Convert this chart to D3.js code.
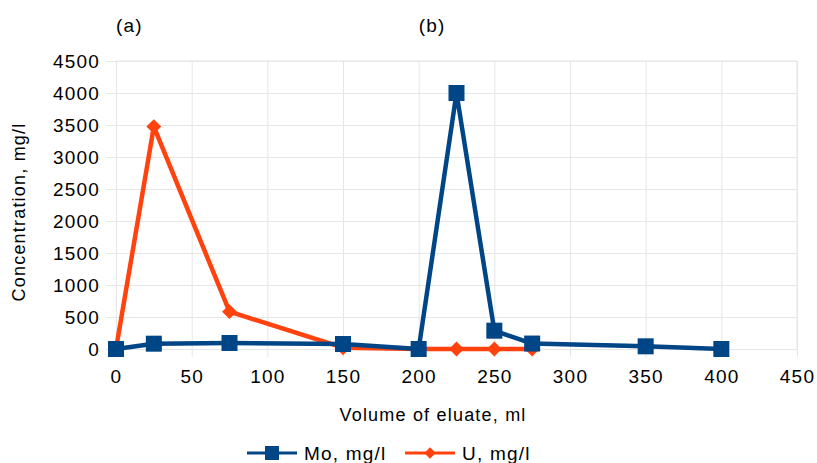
<!DOCTYPE html>
<html><head><meta charset="utf-8">
<script src="https://cdn.jsdelivr.net/npm/d3@7"></script>
<style>
body{margin:0;background:#fff;}
text{font-family:"Liberation Sans",Arial,sans-serif;fill:#000;}
</style></head>
<body>
<svg id="c" width="817" height="463"></svg>
<script>
const volumes = [0, 25, 75, 150, 200, 225, 250, 275, 350, 400];
const moValues = [0, 83, 94, 78, 0, 4000, 286, 85, 42, 0];
const uVolumes = [0, 25, 75, 150, 200, 225, 250, 275];
const uValues = [0, 3475, 583, 20, 0, 0, 0, 0];
const xTicks = [0, 50, 100, 150, 200, 250, 300, 350, 400, 450];
const yTicks = [0, 500, 1000, 1500, 2000, 2500, 3000, 3500, 4000, 4500];
const seriesNames = ["Mo, mg/l", "U, mg/l"];
const colors = ["#004586", "#ff420e"];
const panelLabels = [{text:"(a)", x:0}, {text:"(b)", x:200}];

const svg = d3.select("#c");
const L = 116, R = 797, T = 61, B = 349;
const x = d3.scaleLinear().domain([0, 450]).range([L, R]);
const y = d3.scaleLinear().domain([0, 4500]).range([B, T]);
const grid = "#e6e6e6";
const ls = "1.2px";

// grid
const xg = svg.append("g").attr("transform", `translate(0,${B})`)
  .call(d3.axisBottom(x).tickValues(xTicks).tickSize(-(B - T)).tickFormat(""));
const yg = svg.append("g").attr("transform", `translate(${L},0)`)
  .call(d3.axisLeft(y).tickValues(yTicks).tickSize(-(R - L)).tickFormat(""));
[xg, yg].forEach(g => { g.select(".domain").remove(); g.selectAll("line").attr("stroke", grid); });

// axes with outward ticks + labels
const xa = svg.append("g").attr("transform", `translate(0,${B})`)
  .call(d3.axisBottom(x).tickValues(xTicks).tickSize(8).tickPadding(13).tickFormat(d3.format("d")));
const ya = svg.append("g").attr("transform", `translate(${L},0)`)
  .call(d3.axisLeft(y).tickValues(yTicks).tickSize(10).tickPadding(6).tickFormat(d3.format("d")));
[xa, ya].forEach(g => {
  g.select(".domain").attr("stroke", grid);
  g.selectAll("line").attr("stroke", grid);
  g.selectAll("text").attr("font-size", 19).attr("letter-spacing", ls)
    .attr("font-family", "Liberation Sans").attr("fill", "#000");
});
svg.append("line").attr("x1", R).attr("x2", R).attr("y1", T).attr("y2", B).attr("stroke", grid);
svg.append("line").attr("x1", L).attr("x2", R).attr("y1", T).attr("y2", T).attr("stroke", grid);

// lines
const line = d3.line().x(d => x(d[0])).y(d => y(d[1]));
const uData = uVolumes.map((v, i) => [v, uValues[i]]);
const moData = volumes.map((v, i) => [v, moValues[i]]);

svg.append("path").datum(uData).attr("d", line).attr("fill", "none")
  .attr("stroke", colors[1]).attr("stroke-width", 4.5).attr("stroke-linejoin", "round");
svg.selectAll(".ud").data(uData).join("path")
  .attr("transform", d => `translate(${x(d[0])},${y(d[1])}) rotate(45)`)
  .attr("d", d3.symbol().type(d3.symbolSquare).size(110)).attr("fill", colors[1]);

svg.append("path").datum(moData).attr("d", line).attr("fill", "none")
  .attr("stroke", colors[0]).attr("stroke-width", 4.5).attr("stroke-linejoin", "round");
svg.selectAll(".md").data(moData).join("rect")
  .attr("x", d => x(d[0]) - 8).attr("y", d => y(d[1]) - 8)
  .attr("width", 16).attr("height", 16).attr("fill", colors[0]);

// panel labels
svg.selectAll(".pl").data(panelLabels).join("text")
  .attr("x", d => x(d.x)).attr("y", 32).attr("font-size", 19).attr("letter-spacing", ls)
  .text(d => d.text);

// axis titles
svg.append("text").attr("x", 433).attr("y", 421).attr("text-anchor", "middle")
  .attr("font-size", 18).attr("letter-spacing", ls).text("Volume of eluate, ml");
svg.append("text").attr("transform", "translate(25,212) rotate(-90)").attr("text-anchor", "middle")
  .attr("font-size", 18).attr("letter-spacing", ls).text("Concentration, mg/l");

// legend
const lg = svg.append("g");
const legendX = [247, 405];
seriesNames.forEach((n, i) => {
  const lx = legendX[i], ly = 453;
  lg.append("line").attr("x1", lx).attr("x2", lx + 50).attr("y1", ly).attr("y2", ly)
    .attr("stroke", colors[i]).attr("stroke-width", 3);
  if (i === 0) {
    lg.append("rect").attr("x", lx + 25 - 7).attr("y", ly - 7).attr("width", 14).attr("height", 14).attr("fill", colors[i]);
  } else {
    lg.append("path").attr("transform", `translate(${lx + 25},${ly}) rotate(45)`)
      .attr("d", d3.symbol().type(d3.symbolSquare).size(64)).attr("fill", colors[i]);
  }
  lg.append("text").attr("x", lx + 57).attr("y", ly + 7).attr("font-size", 19).attr("letter-spacing", ls).text(n);
});
</script>
</body></html>
